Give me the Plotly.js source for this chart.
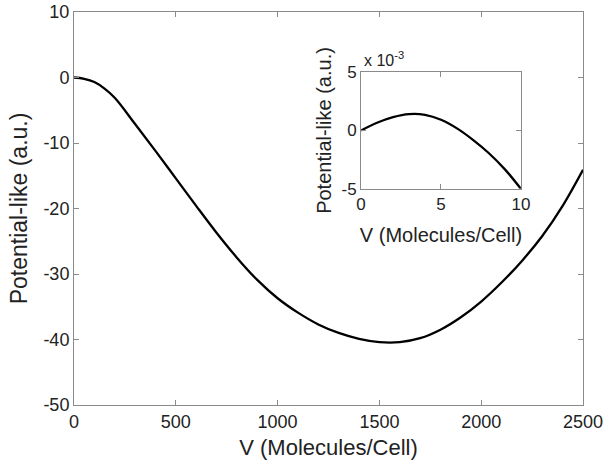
<!DOCTYPE html>
<html>
<head>
<meta charset="utf-8">
<script src="https://cdn.plot.ly/plotly-3.0.1.min.js"></script>
<style>html,body{margin:0;padding:0;background:#fff;}#chart{width:605px;height:465px;}</style>
</head>
<body>
<div id="chart"></div>
<script>
// Main curve: V (Molecules/Cell) vs potential-like (a.u.)
var mainV = [0, 50, 100, 150, 200, 300, 400, 500, 600, 700, 800, 900, 1000, 1100, 1200, 1300, 1400, 1500, 1600, 1700, 1800, 1900, 2000, 2100, 2200, 2300, 2400, 2500];
var mainU = [0, -0.2, -0.7, -1.7, -3.1, -7.1, -11.2, -15.4, -19.6, -23.7, -27.5, -30.9, -33.7, -35.9, -37.7, -39.0, -39.9, -40.4, -40.4, -39.8, -38.5, -36.6, -34.2, -31.3, -28.0, -24.2, -19.6, -14.1];
// Inset curve: small-V region, values in units of 1e-3
var insetV = [0, 1, 2, 3, 4, 5, 6, 7, 8, 9, 10];
var insetU_e3 = [0, 0.66, 1.14, 1.40, 1.34, 0.92, 0.18, -0.80, -1.95, -3.33, -5.0];

var mainXTicks = [0, 500, 1000, 1500, 2000, 2500];
var mainYTicks = [-50, -40, -30, -20, -10, 0, 10];
var insetXTicks = [0, 5, 10];
var insetYTicks = [-5, 0, 5];

var FONT = 'Liberation Sans, Arial, sans-serif';
var axColor = '#8a8a8a';
var txt = '#222';

function ax(extra, fs) {
  return Object.assign({
    showgrid: false, zeroline: false, showline: true, linecolor: axColor, linewidth: 1,
    mirror: 'ticks', ticks: 'inside', ticklen: 5, tickcolor: axColor, tickwidth: 1,
    tickfont: {family: FONT, size: fs, color: txt}, automargin: false
  }, extra);
}

var traces = [
  {x: mainV, y: mainU, type: 'scatter', mode: 'lines', line: {color: '#000', width: 2.3, shape: 'spline', smoothing: 1}, xaxis: 'x', yaxis: 'y', hoverinfo: 'skip'},
  {x: insetV, y: insetU_e3, type: 'scatter', mode: 'lines', line: {color: '#000', width: 2.3, shape: 'spline', smoothing: 1}, xaxis: 'x2', yaxis: 'y2', hoverinfo: 'skip'}
];

var layout = {
  width: 605, height: 465,
  margin: {l: 74, r: 22, t: 12, b: 60},
  paper_bgcolor: '#fff', plot_bgcolor: 'rgba(0,0,0,0)',
  showlegend: false,
  font: {family: FONT, color: txt},
  xaxis: ax({domain: [0, 1], range: [0, 2500], tickvals: mainXTicks, ticktext: mainXTicks.map(String), anchor: 'y',
    title: {text: 'V (Molecules/Cell)', font: {family: FONT, size: 22, color: txt}, standoff: 9}}, 18),
  yaxis: ax({domain: [0, 1], range: [-50, 10], tickvals: mainYTicks, ticktext: mainYTicks.map(String), anchor: 'x',
    title: {text: 'Potential-like (a.u.)', font: {family: FONT, size: 23, color: txt}, standoff: 9}}, 18),
  xaxis2: ax({domain: [0.564, 0.878], range: [0, 10], tickvals: insetXTicks, ticktext: insetXTicks.map(String), anchor: 'y2',
    title: {text: 'V (Molecules/Cell)', font: {family: FONT, size: 20, color: txt}, standoff: 14}}, 17),
  yaxis2: ax({domain: [0.55, 0.847], range: [-5, 5], tickvals: insetYTicks, ticktext: insetYTicks.map(String), anchor: 'x2',
    title: {text: 'Potential-like (a.u.)', font: {family: FONT, size: 20, color: txt}, standoff: 4}}, 17),
  annotations: [
    {xref: 'paper', yref: 'paper', x: 0.566, y: 0.85, xanchor: 'left', yanchor: 'bottom', showarrow: false,
     text: 'x 10<sup>-3</sup>', font: {family: FONT, size: 16, color: txt}}
  ]
};

Plotly.newPlot('chart', traces, layout, {staticPlot: true, displayModeBar: false});
</script>
</body>
</html>
